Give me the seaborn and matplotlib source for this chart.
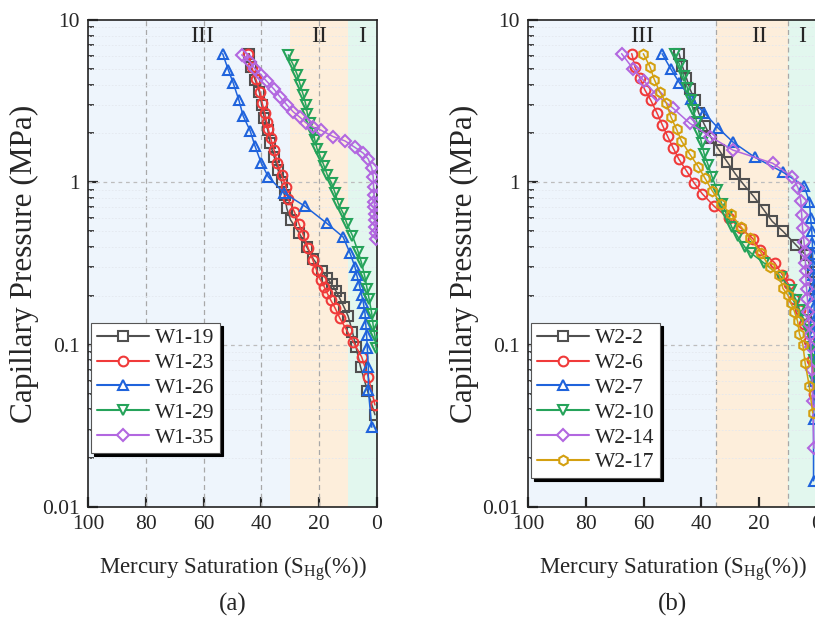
import numpy as np
import pandas as pd
import matplotlib
matplotlib.use("Agg")
import matplotlib.pyplot as plt
import seaborn as sns
from matplotlib.lines import Line2D
from matplotlib.ticker import FixedLocator, LogLocator, NullFormatter, FixedFormatter

# ---------------- data (Mercury saturation %, capillary pressure MPa) ----------------
w1_19_s = [44.2, 43.7, 42.2, 40.7, 39.9, 39.0, 37.8, 37.0, 35.6, 34.2, 33.0, 32.0, 31.2, 29.9, 27.0,
           24.3, 22.0, 19.0, 17.2, 15.7, 14.2, 12.9, 11.4, 10.0, 8.5, 7.3, 5.7, 3.3, 0.7]
w1_19_p = [6.2, 5.15, 4.3, 3.6, 3.0, 2.5, 2.1, 1.74, 1.44, 1.19, 1.0, 0.83, 0.69, 0.586, 0.49,
           0.40, 0.336, 0.285, 0.256, 0.236, 0.214, 0.193, 0.17, 0.15, 0.12, 0.097, 0.073, 0.052, 0.037]

w1_23_s = [44.5, 43.4, 41.9, 40.5, 39.7, 38.8, 38.2, 37.6, 36.8, 35.6, 34.5, 33.0, 31.5, 30.7, 28.6,
           27.0, 25.5, 23.8, 22.2, 20.9, 19.5, 18.3, 17.2, 16.0, 14.5, 12.8, 10.5, 8.2, 5.3, 3.0, 0.7]
w1_23_p = [6.2, 5.15, 4.31, 3.61, 3.07, 2.66, 2.36, 2.12, 1.87, 1.58, 1.32, 1.11, 0.94, 0.785, 0.659,
           0.555, 0.473, 0.392, 0.332, 0.288, 0.250, 0.228, 0.207, 0.188, 0.168, 0.145, 0.123, 0.104,
           0.084, 0.063, 0.0425]

w1_26_s = [53.4, 51.4, 49.7, 47.8, 46.3, 43.9, 42.2, 40.1, 37.6, 32.2, 24.8, 17.4, 11.7, 9.3, 7.6,
           7.0, 6.1, 5.3, 4.7, 4.15, 3.9, 3.6, 3.35, 3.0, 3.0, 1.8]
w1_26_p = [6.2, 4.9, 4.07, 3.21, 2.56, 2.08, 1.67, 1.32, 1.08, 0.86, 0.71, 0.56, 0.46, 0.365, 0.30,
           0.268, 0.233, 0.202, 0.18, 0.156, 0.135, 0.115, 0.095, 0.073, 0.0525, 0.031]

w1_29_s = [30.7, 29.0, 27.6, 26.6, 25.5, 24.6, 24.1, 23.2, 22.0, 21.5, 20.7, 19.5, 18.3, 17.2, 15.7,
           14.5, 13.4, 11.7, 10.3, 8.5, 6.5, 5.3, 4.2, 3.4, 2.7, 1.8, 1.3, 0.7, 0.3]
w1_29_p = [6.1, 5.3, 4.6, 4.0, 3.45, 3.0, 2.64, 2.33, 2.02, 1.82, 1.60, 1.43, 1.26, 1.11, 0.99,
           0.86, 0.74, 0.645, 0.55, 0.47, 0.373, 0.317, 0.262, 0.22, 0.19, 0.155, 0.13, 0.113, 0.095]

w1_35_s = [46.8, 43.9, 42.2, 40.2, 38.2, 35.6, 33.6, 31.2, 29.0, 26.6, 24.6, 22.0, 19.5, 15.1, 11.1,
           7.6, 4.7, 3.0, 1.8, 1.3, 1.2, 1.0, 0.9, 0.9, 0.8, 0.7, 0.6, 0.5, 0.4]
w1_35_p = [6.1, 5.5, 5.0, 4.6, 4.2, 3.74, 3.37, 3.0, 2.72, 2.51, 2.33, 2.18, 2.10, 1.91, 1.80,
           1.64, 1.51, 1.39, 1.22, 1.08, 0.94, 0.835, 0.76, 0.70, 0.64, 0.586, 0.53, 0.485, 0.45]

w2_2_s = [47.7, 46.6, 45.2, 43.9, 42.3, 40.9, 38.7, 36.6, 34.0, 31.0, 28.3, 25.4, 21.8, 18.5, 15.5,
          11.8, 7.2, 3.8, 1.5, 0.6, 0.3]
w2_2_p = [6.2, 5.2, 4.4, 3.74, 3.2, 2.66, 2.22, 1.88, 1.59, 1.33, 1.13, 0.97, 0.815, 0.68, 0.575,
          0.50, 0.41, 0.355, 0.28, 0.22, 0.15]

w2_6_s = [64.1, 63.0, 61.3, 59.6, 57.5, 55.4, 53.5, 51.7, 49.8, 47.8, 45.2, 42.6, 39.7, 35.5, 30.6,
          26.2, 22.2, 19.6, 14.7, 12.0, 9.8, 7.8, 6.0, 4.4, 2.7, 1.6, 1.0]
w2_6_p = [6.2, 5.15, 4.4, 3.72, 3.2, 2.68, 2.25, 1.92, 1.63, 1.39, 1.18, 0.995, 0.85, 0.71, 0.60,
          0.52, 0.45, 0.383, 0.32, 0.27, 0.235, 0.19, 0.163, 0.135, 0.106, 0.08, 0.05]

w2_7_s = [53.6, 50.6, 47.6, 43.5, 39.0, 34.1, 28.9, 21.6, 11.6, 4.5, 2.6, 2.2, 1.8, 1.6, 1.5, 1.4,
          1.3, 1.2, 1.1, 1.0, 1.0, 0.9, 0.8, 0.8, 0.9, 1.2, 1.2]
w2_7_p = [6.2, 5.0, 4.1, 3.25, 2.67, 2.15, 1.76, 1.43, 1.15, 0.95, 0.76, 0.60, 0.50, 0.42, 0.36, 0.31,
          0.27, 0.23, 0.20, 0.17, 0.14, 0.12, 0.10, 0.08, 0.06, 0.035, 0.0145]

w2_10_s = [49.2, 47.5, 46.1, 44.9, 43.7, 42.9, 41.6, 40.8, 39.9, 39.0, 37.6, 36.3, 34.6, 33.0, 31.0,
           29.5, 27.5, 25.0, 22.8, 18.2, 12.4, 9.0, 7.2, 6.0, 4.4, 3.2, 2.1, 1.1, 0.6]
w2_10_p = [6.2, 5.28, 4.5, 3.83, 3.22, 2.8, 2.36, 2.02, 1.74, 1.49, 1.27, 1.08, 0.90, 0.74, 0.62,
           0.53, 0.465, 0.40, 0.366, 0.317, 0.262, 0.217, 0.188, 0.163, 0.141, 0.123, 0.097, 0.08, 0.06]

w2_14_s = [67.6, 63.6, 59.8, 55.5, 49.8, 44.0, 36.9, 29.1, 15.3, 8.5, 6.5, 5.6, 5.3, 5.0, 4.5, 4.2,
           4.0, 3.9, 3.8, 3.6, 3.3, 3.1, 2.8, 2.5, 2.1, 1.8, 1.5, 1.1]
w2_14_p = [6.2, 5.0, 4.2, 3.45, 2.86, 2.31, 1.91, 1.58, 1.31, 1.08, 0.92, 0.77, 0.63, 0.52, 0.43, 0.37,
           0.32, 0.285, 0.25, 0.22, 0.19, 0.16, 0.135, 0.115, 0.097, 0.07, 0.045, 0.023]

w2_17_s = [60.1, 57.8, 56.3, 54.4, 52.1, 50.6, 48.6, 46.9, 44.0, 41.1, 38.9, 36.3, 33.3, 29.9, 26.2,
           23.3, 19.3, 16.4, 13.0, 11.8, 10.1, 9.0, 7.8, 6.7, 6.1, 4.9, 4.1, 2.7, 1.5]
w2_17_p = [6.2, 5.15, 4.3, 3.6, 3.07, 2.54, 2.12, 1.80, 1.49, 1.25, 1.07, 0.89, 0.74, 0.64, 0.53,
           0.455, 0.366, 0.30, 0.268, 0.222, 0.202, 0.18, 0.16, 0.139, 0.117, 0.10, 0.077, 0.056, 0.038]

labels_a = ["W1-19", "W1-23", "W1-26", "W1-29", "W1-35"]
labels_b = ["W2-2", "W2-6", "W2-7", "W2-10", "W2-14", "W2-17"]
x_ticks = [100, 80, 60, 40, 20, 0]
x_tick_labels = ["100", "80", "60", "40", "20", "0"]
y_ticks = [10, 1, 0.1, 0.01]
y_tick_labels = ["10", "1", "0.1", "0.01"]
zone_labels = ["III", "II", "I"]
zones_a = [100, 30, 10, 0]
zones_b = [100, 35, 10, 0]
panel_tags = ["(a)", "(b)"]

# ---------------- style ----------------
colors = ["#505050", "#f03a3a", "#1f63dc", "#25a35a", "#b267e0", "#d4a010"]
markers = ["s", "o", "^", "v", "D", "h"]
zone_colors = ["#eef5fc", "#fdeedb", "#e2f7ee"]

sns.set_style("ticks")
plt.rcParams["font.family"] = ["Liberation Serif", "DejaVu Serif"]
plt.rcParams["mathtext.fontset"] = "custom"
plt.rcParams["mathtext.rm"] = "Liberation Serif"
plt.rcParams["mathtext.it"] = "Liberation Serif:italic"

FS = 15.5
fig = plt.figure(figsize=(8.15, 6.28), dpi=100)
ax_a = fig.add_axes([88 / 815, 1 - 507 / 628, 289 / 815, 487 / 628])
ax_b = fig.add_axes([528 / 815, 1 - 507 / 628, 289 / 815, 487 / 628])


def draw_panel(ax, series, labels, zones, vgrid, tag):
    # zone shading
    for i in range(3):
        ax.axvspan(zones[i + 1], zones[i], color=zone_colors[i], zorder=0, lw=0)
    for i, lab in enumerate(zone_labels):
        xc = [60.5, 20.2, 5.2][i]
        ax.text(xc, 7.9, lab, ha="center", va="center", fontsize=17, zorder=5)
    # grid
    for v in vgrid:
        ax.axvline(v, color="#a8a8a8", ls=(0, (4, 3)), lw=0.9, zorder=1)
    for h in [1, 0.1]:
        ax.axhline(h, color="#bdbdbd", ls=(0, (3, 3)), lw=0.9, zorder=1)
    for dec in [0.01, 0.1, 1]:
        for m in range(2, 10):
            ax.axhline(dec * m, color="#e4e8ee", lw=0.6, ls=(0, (2, 2)), zorder=1)
    handles = []
    for k, ((s, p), lab) in enumerate(zip(series, labels)):
        c = colors[k]
        df = pd.DataFrame({"S": s, "P": p})
        sns.lineplot(data=df, x="S", y="P", ax=ax, sort=False, estimator=None,
                     color=c, lw=1.1, marker=markers[k], ms=7 if markers[k] != "D" else 6.3,
                     mfc="none", mec=c, mew=1.5, zorder=3 + k * 0.01)
        handles.append(Line2D([], [], color=c, lw=1.5, marker=markers[k],
                              ms=7 if markers[k] != "D" else 6.3,
                              mfc="white", mec=c, mew=1.5, label=lab))
    ax.set_yscale("log")
    ax.set_xlim(100, 0)
    ax.set_ylim(0.01, 10)
    ax.xaxis.set_major_locator(FixedLocator(x_ticks))
    ax.xaxis.set_major_formatter(FixedFormatter(x_tick_labels))
    ax.yaxis.set_major_locator(FixedLocator(y_ticks))
    ax.yaxis.set_major_formatter(FixedFormatter(y_tick_labels))
    ax.yaxis.set_minor_locator(LogLocator(base=10, subs=np.arange(2, 10)))
    ax.yaxis.set_minor_formatter(NullFormatter())
    ax.tick_params(axis="both", which="major", direction="in", length=7, width=1.6,
                   labelsize=FS, top=False, right=False, pad=6)
    ax.tick_params(axis="y", which="minor", direction="in", length=4, width=1.2, right=False)
    ax.tick_params(axis="x", which="minor", bottom=False, top=False)
    for sp in ax.spines.values():
        sp.set_color("#222222")
        sp.set_linewidth(1.2)
    ax.set_xlabel(r"Mercury Saturation (S$_{\mathrm{Hg}}$(%))", fontsize=FS + 1, labelpad=14)
    ax.set_ylabel("Capillary Pressure (MPa)", fontsize=22.5, labelpad=2)
    leg = ax.legend(handles=handles, loc="upper left", bbox_to_anchor=(0.012, 0.378),
                    fontsize=FS, frameon=True, fancybox=False, framealpha=1,
                    edgecolor="#555555", handlelength=2.4, handletextpad=0.3,
                    labelspacing=0.22, borderpad=0.25, borderaxespad=0.0,
                    shadow={"color": "black", "alpha": 1})
    leg.get_frame().set_linewidth(0.8)
    leg.set_zorder(10)
    ax.text(0.5, -0.2, tag, transform=ax.transAxes, ha="center", va="center", fontsize=18)


draw_panel(ax_a,
           [(w1_19_s, w1_19_p), (w1_23_s, w1_23_p), (w1_26_s, w1_26_p),
            (w1_29_s, w1_29_p), (w1_35_s, w1_35_p)],
           labels_a, zones_a, [80, 60, 40, 20], panel_tags[0])
draw_panel(ax_b,
           [(w2_2_s, w2_2_p), (w2_6_s, w2_6_p), (w2_7_s, w2_7_p),
            (w2_10_s, w2_10_p), (w2_14_s, w2_14_p), (w2_17_s, w2_17_p)],
           labels_b, zones_b, [35, 10], panel_tags[1])

fig.savefig("out.png", dpi=100)
